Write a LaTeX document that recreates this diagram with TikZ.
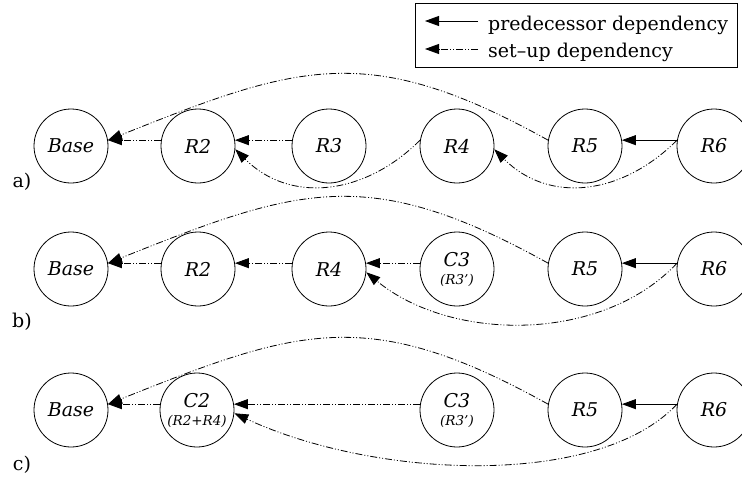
\documentclass[tikz,border=0pt]{standalone}
\usepackage{fontspec}
\setmainfont{DejaVu Serif}
\usetikzlibrary{arrows.meta}
\newcommand{\subtext}[1]{{\fontsize{13.5}{15}\selectfont\itshape #1}}
\begin{document}
\begin{tikzpicture}[x=1pt,y=-1pt,
  state/.style={circle,draw,line width=0.8pt,minimum size=74pt,inner sep=0pt,
    align=center,font=\fontsize{19}{21}\selectfont\itshape},
  tipstyle/.style={-{Triangle[length=14pt,width=10pt]}},
  pred/.style={line width=0.8pt,tipstyle},
  setup/.style={line width=0.8pt,tipstyle,
    dash pattern=on 7pt off 2pt on 1pt off 2pt on 1pt off 2pt},
  rowlabel/.style={font=\fontsize{19}{21}\selectfont},
  legtext/.style={anchor=base west,inner sep=0pt,font=\fontsize{19}{21}\selectfont}]
\useasboundingbox (0,0) rectangle (742,477);

% legend
\node (legend) [draw,line width=1.3pt,minimum width=322pt,minimum height=64pt,
  anchor=north west,inner sep=0pt] at (415,3) {};
\node (legpred) [legtext] at (488,30) {predecessor dependency};
\node (legsetup) [legtext] at (488,57) {set–up dependency};
\coordinate (lp1) at (478,21);
\coordinate (lp2) at (425,21);
\coordinate (ls1) at (478,49);
\coordinate (ls2) at (425,49);
\draw[pred] (lp1) -- (lp2);
\draw[setup] (ls1) -- (ls2);

% row a
\node (aBase) [state] at (71,146) {Base};
\node (aR2) [state] at (198,146) {R2};
\node (aR3) [state] at (329,146) {R3};
\node (aR4) [state] at (457,146) {R4};
\node (aR5) [state] at (585,146) {R5};
\node (aR6) [state] at (714,146) {R6};
\node (la) [rowlabel] at (22,182) {a)};

\draw[setup] (aR2.171) -- (aBase.9);
\draw[setup] (aR3.171) -- (aR2.9);
\draw[pred] (aR6.171) -- (aR5.9);
\draw[setup] (aR5.171) .. controls +(-180,-100) and +(190,-76) .. (aBase.9);
\draw[setup] (aR4.171) .. controls +(-55,55) and +(55,55) .. (aR2.-5);
\draw[setup] (aR6.171) .. controls +(-55,55) and +(55,55) .. (aR4.-5);

% row b
\node (bBase) [state] at (71,269) {Base};
\node (bR2) [state] at (198,269) {R2};
\node (bR4) [state] at (329,269) {R4};
\node (bC3) [state] at (457,269) {C3\\[-3pt]\subtext{(R3')}};
\node (bR5) [state] at (585,269) {R5};
\node (bR6) [state] at (714,269) {R6};
\node (lb) [rowlabel] at (22,322) {b)};

\draw[setup] (bR2.171) -- (bBase.9);
\draw[setup] (bR4.171) -- (bR2.9);
\draw[setup] (bC3.171) -- (bR4.9);
\draw[pred] (bR6.171) -- (bR5.9);
\draw[setup] (bR5.171) .. controls +(-180,-100) and +(190,-76) .. (bBase.9);
\draw[setup] (bR6.171) .. controls +(-75,80) and +(85,70) .. (bR4.-5);

% row c
\node (cBase) [state] at (71,410) {Base};
\node (cC2) [state] at (197,410) {C2\\[-3pt]\subtext{(R2+R4)}};
\node (cC3) [state] at (457,410) {C3\\[-3pt]\subtext{(R3')}};
\node (cR5) [state] at (585,410) {R5};
\node (cR6) [state] at (714,410) {R6};
\node (lc) [rowlabel] at (22,465) {c)};

\draw[setup] (cC2.171) -- (cBase.9);
\draw[setup] (cC3.171) -- (cC2.9);
\draw[pred] (cR6.171) -- (cR5.9);
\draw[setup] (cR5.171) .. controls +(-180,-100) and +(190,-76) .. (cBase.9);
\draw[setup] (cR6.171) .. controls +(-80,85) and +(140,65) .. (cC2.-5);
\end{tikzpicture}
\end{document}
